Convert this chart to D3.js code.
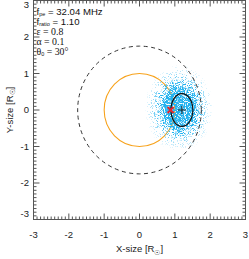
<!DOCTYPE html>
<html><head><meta charset="utf-8">
<script src="https://cdn.jsdelivr.net/npm/d3@7"></script>
<style>
html,body{margin:0;padding:0;background:#fff;}
svg{display:block;}
</style></head>
<body>
<script>
// ---------- data ----------
const xTicks = [-3, -2, -1, 0, 1, 2, 3];
const yTicks = [-3, -2, -1, 0, 1, 2, 3];
const sunRadius = 1.0;             // orange circle
const scatterRadius = 1.75;        // dashed circle
const ellipseCenter = [1.2, 0.0];  // black ellipse / plus
const ellipseAxes = [0.31, 0.45];
const sourcePos = [0.88, 0.0];     // red cross
const cloudCenter = [1.12, 0.05];  // photon cloud
const cloudAxes = [0.98, 1.2];
const cloudStops = [0, 0.36, 0.44, 0.56, 0.7, 0.85, 1.0];
const cloudDensity = [1.0, 1.0, 0.9, 0.6, 0.36, 0.16, 0.0];
const legendRows = [
  {main: "f", sub: "pe", rest: " = 32.04 MHz", serif: false},
  {main: "f", sub: "ratio", rest: " = 1.10", serif: false},
  {main: "ε", sub: "", rest: " = 0.8", serif: true},
  {main: "α", sub: "", rest: " = 0.1", serif: true},
  {main: "θ", sub: "0", rest: " = 30°", serif: true}
];

// ---------- layout ----------
const W = 249, H = 259;
const L = 33.5, R = 245.5, T = 0.5, B = 219.5;
const x = d3.scaleLinear().domain([-3, 3]).range([L, R]);
const y = d3.scaleLinear().domain([-3, 3]).range([B, T]);
const sans = "'Liberation Sans', Arial, Helvetica, sans-serif";
const serif = "'Liberation Serif', 'Times New Roman', serif";

const svg = d3.select("body").append("svg").attr("width", W).attr("height", H);
const defs = svg.append("defs");

// gradient for the cloud density
const grad = defs.append("radialGradient").attr("id", "cloudGrad");
grad.selectAll("stop").data(cloudStops).join("stop")
  .attr("offset", d => d)
  .attr("stop-color", "#000")
  .attr("stop-opacity", (d, i) => cloudDensity[i]);

// speckle filter
const f = defs.append("filter").attr("id", "speckle")
  .attr("filterUnits", "userSpaceOnUse")
  .attr("x", L).attr("y", T).attr("width", R - L).attr("height", B - T)
  .attr("color-interpolation-filters", "sRGB");
f.append("feTurbulence").attr("type", "fractalNoise").attr("baseFrequency", 1.1)
  .attr("numOctaves", 2).attr("seed", 11).attr("result", "noise");
f.append("feColorMatrix").attr("in", "noise").attr("type", "matrix")
  .attr("values", "0 0 0 0 0  0 0 0 0 0  0 0 0 0 0  2.8 0 0 0 -0.9").attr("result", "n");
f.append("feComposite").attr("in", "SourceAlpha").attr("in2", "n")
  .attr("operator", "arithmetic").attr("k1", 0).attr("k2", 1.9).attr("k3", -1.9).attr("k4", 0)
  .attr("result", "mask");
f.append("feFlood").attr("flood-color", "#22b2ef").attr("result", "col");
f.append("feComposite").attr("in", "col").attr("in2", "mask").attr("operator", "in");

const clip = defs.append("clipPath").attr("id", "plotClip");
clip.append("rect").attr("x", L).attr("y", T).attr("width", R - L).attr("height", B - T);

const plot = svg.append("g").attr("clip-path", "url(#plotClip)");
const kx = x(1) - x(0), ky = y(0) - y(1);

// orange circle
plot.append("ellipse")
  .attr("cx", x(0)).attr("cy", y(0))
  .attr("rx", sunRadius * kx).attr("ry", sunRadius * ky)
  .attr("fill", "none").attr("stroke", "#f7a21b").attr("stroke-width", 1.1);

// photon cloud
plot.append("g").attr("filter", "url(#speckle)")
  .append("ellipse")
  .attr("cx", x(cloudCenter[0])).attr("cy", y(cloudCenter[1]))
  .attr("rx", cloudAxes[0] * kx).attr("ry", cloudAxes[1] * ky)
  .attr("fill", "url(#cloudGrad)");

// dashed circle
plot.append("ellipse")
  .attr("cx", x(0)).attr("cy", y(0))
  .attr("rx", scatterRadius * kx).attr("ry", scatterRadius * ky)
  .attr("fill", "none").attr("stroke", "#333").attr("stroke-width", 1)
  .attr("stroke-dasharray", "4,3.5");

// black ellipse
plot.append("ellipse")
  .attr("cx", x(ellipseCenter[0])).attr("cy", y(ellipseCenter[1]))
  .attr("rx", ellipseAxes[0] * kx).attr("ry", ellipseAxes[1] * ky)
  .attr("fill", "none").attr("stroke", "#111").attr("stroke-width", 1.2);

// plus
const px = x(ellipseCenter[0]), py = y(ellipseCenter[1]);
plot.append("path")
  .attr("d", `M${px - 4},${py}H${px + 4}M${px},${py - 4}V${py + 4}`)
  .attr("stroke", "#222").attr("stroke-width", 1);

// red cross
const sx = x(sourcePos[0]), sy = y(sourcePos[1]);
plot.append("path")
  .attr("d", `M${sx - 3},${sy - 3}L${sx + 3},${sy + 3}M${sx - 3},${sy + 3}L${sx + 3},${sy - 3}`)
  .attr("stroke", "#e8232b").attr("stroke-width", 1.8);

// ---------- axes (IDL style box, inward ticks) ----------
const axisCol = "#555";
const minor = d3.range(-30, 31).map(v => v / 10).filter(v => Math.abs(v * 10 % 10) > 1e-9);
const ax = svg.append("g").attr("stroke", axisCol).attr("stroke-width", 1).attr("fill", "none");
ax.append("rect").attr("x", L).attr("y", T).attr("width", R - L).attr("height", B - T);
const tk = [];
xTicks.forEach(v => { tk.push(`M${x(v)},${B}v-6`, `M${x(v)},${T}v6`); });
yTicks.forEach(v => { tk.push(`M${L},${y(v)}h6`, `M${R},${y(v)}h-6`); });
minor.forEach(v => {
  tk.push(`M${x(v)},${B}v-3`, `M${x(v)},${T}v3`, `M${L},${y(v)}h3`, `M${R},${y(v)}h-3`);
});
ax.append("path").attr("d", tk.join(""));

svg.append("g").selectAll("text").data(xTicks).join("text")
  .attr("x", d => x(d)).attr("y", 238)
  .attr("text-anchor", "middle").attr("font-family", sans).attr("font-size", 9.5)
  .attr("fill", "#222")
  .text(d => d);
svg.append("g").selectAll("text").data(yTicks).join("text")
  .attr("x", 29).attr("y", d => Math.min(Math.max(y(d), 5), 214) + 3.4)
  .attr("text-anchor", "end").attr("font-family", sans).attr("font-size", 9.5)
  .attr("fill", "#222")
  .text(d => d);

// axis titles
const xt = svg.append("text").attr("x", x(0)).attr("y", 252)
  .attr("text-anchor", "middle").attr("font-family", sans).attr("font-size", 9.5).attr("fill", "#222");
xt.append("tspan").text("X-size [R");
xt.append("tspan").attr("font-size", 6.5).attr("dy", 2.5).text("☉");
xt.append("tspan").attr("dy", -2.5).text("]");

const yt = svg.append("text")
  .attr("transform", `translate(12.5,${y(0)}) rotate(-90)`)
  .attr("text-anchor", "middle").attr("font-family", sans).attr("font-size", 9.5).attr("fill", "#222");
yt.append("tspan").text("Y-size [R");
yt.append("tspan").attr("font-size", 6.5).attr("dy", 2.5).text("☉");
yt.append("tspan").attr("dy", -2.5).text("]");

// legend
legendRows.forEach((r, i) => {
  const t = svg.append("text").attr("x", 36.5).attr("y", 15 + i * 10)
    .attr("font-family", r.serif ? serif : sans).attr("font-size", r.serif ? 9.8 : 9.6).attr("fill", "#111");
  t.append("tspan").text(r.main);
  if (r.sub) {
    t.append("tspan").attr("font-size", 5.5).attr("dy", 1.3).attr("font-family", sans).text(r.sub);
    t.append("tspan").attr("dy", -1.3).text(r.rest);
  } else {
    t.append("tspan").text(r.rest);
  }
});
</script>
</body></html>
